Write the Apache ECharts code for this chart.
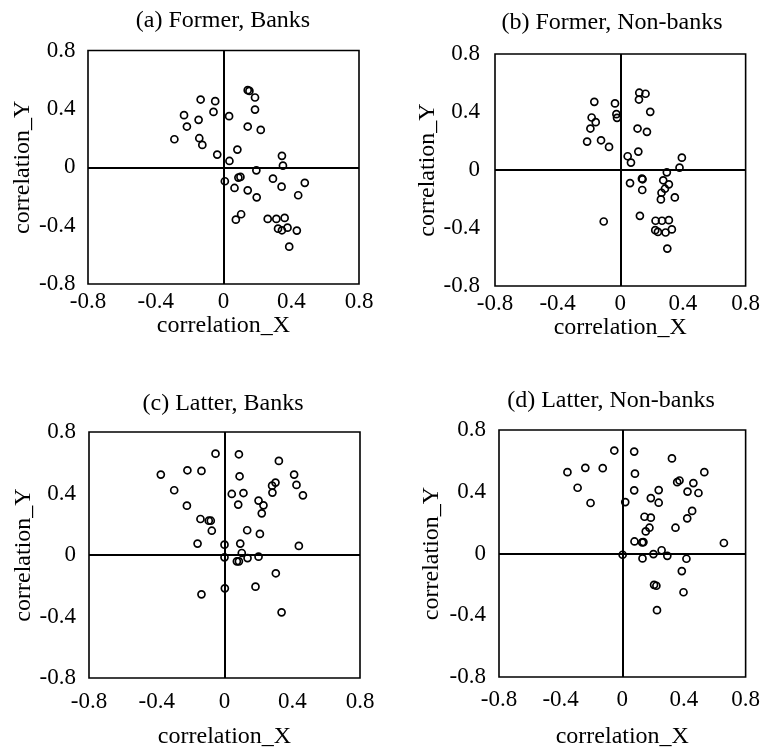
<!DOCTYPE html>
<html>
<head>
<meta charset="utf-8">
<script src="https://cdn.jsdelivr.net/npm/echarts@6/dist/echarts.min.js"></script>
<style>
html,body{margin:0;padding:0;background:#fff;}
#chart{width:763px;height:750px;}
</style>
</head>
<body>
<div id="chart"></div>
<script>
// ---- data ----
const panelTitles = ['(a) Former, Banks', '(b) Former, Non-banks', '(c) Latter, Banks', '(d) Latter, Non-banks'];
const xAxisName = 'correlation_X';
const yAxisName = 'correlation_Y';
const tickValues = [-0.8, -0.4, 0, 0.4, 0.8];
const tickLabels = ['-0.8', '-0.4', '0', '0.4', '0.8'];

const aX = [0.143,0.153,0.186,-0.135,-0.049,0.186,-0.233,-0.059,0.033,-0.147,-0.216,0.143,0.220,-0.290,-0.143,-0.125,0.082,-0.037,0.345,0.035,0.351,0.194,0.008,0.088,0.100,0.292,0.480,0.065,0.343,0.143,0.196,0.441,0.104,0.073,0.261,0.312,0.361,0.322,0.345,0.378,0.433,0.388];
const aY = [0.528,0.523,0.478,0.464,0.453,0.395,0.357,0.379,0.350,0.325,0.279,0.279,0.256,0.192,0.199,0.153,0.121,0.087,0.078,0.043,0.011,-0.021,-0.096,-0.071,-0.066,-0.078,-0.107,-0.142,-0.133,-0.158,-0.206,-0.192,-0.322,-0.359,-0.354,-0.354,-0.347,-0.421,-0.432,-0.414,-0.434,-0.544];

const bX = [0.121,0.161,0.119,-0.166,-0.034,0.191,-0.025,-0.021,-0.183,-0.157,-0.191,0.110,0.170,-0.212,-0.123,-0.072,0.115,0.047,0.068,0.393,0.378,0.297,0.062,0.138,0.142,0.274,0.310,0.285,0.140,0.263,0.348,0.259,0.125,-0.106,0.225,0.266,0.310,0.223,0.240,0.289,0.329,0.300];
const bY = [0.533,0.526,0.486,0.470,0.459,0.401,0.385,0.360,0.362,0.330,0.286,0.286,0.263,0.196,0.205,0.159,0.127,0.095,0.051,0.085,0.016,-0.016,-0.090,-0.060,-0.064,-0.071,-0.099,-0.129,-0.138,-0.157,-0.189,-0.203,-0.316,-0.355,-0.350,-0.350,-0.346,-0.415,-0.427,-0.431,-0.410,-0.542];

const cX = [-0.053,0.085,0.321,-0.376,-0.219,-0.136,0.089,0.411,0.425,0.281,0.301,-0.297,0.043,0.112,0.283,0.463,0.201,0.081,0.230,-0.222,0.220,-0.142,-0.093,-0.081,-0.075,0.134,0.209,-0.159,0.000,0.093,0.439,0.102,0.000,0.136,0.201,0.073,0.085,0.303,0.002,0.183,-0.136,0.337];
const cY = [0.659,0.655,0.612,0.523,0.551,0.547,0.512,0.523,0.456,0.451,0.471,0.421,0.397,0.403,0.406,0.388,0.354,0.328,0.323,0.321,0.271,0.234,0.223,0.223,0.158,0.161,0.137,0.074,0.067,0.074,0.059,0.013,-0.015,-0.020,-0.011,-0.041,-0.041,-0.119,-0.217,-0.206,-0.256,-0.373];

const dX = [-0.052,0.077,0.322,-0.356,-0.240,-0.127,0.082,0.532,-0.290,0.356,0.371,0.461,0.077,0.236,0.423,0.494,0.185,-0.206,0.019,0.236,0.453,0.144,0.185,0.421,0.176,0.152,0.345,0.079,0.129,0.137,0.659,0.002,0.255,0.202,0.292,0.131,0.416,0.386,0.206,0.221,0.397,0.225];
const dY = [0.667,0.660,0.616,0.527,0.555,0.553,0.517,0.527,0.426,0.462,0.473,0.456,0.409,0.411,0.401,0.392,0.359,0.327,0.333,0.329,0.276,0.238,0.232,0.228,0.167,0.143,0.167,0.078,0.072,0.074,0.068,-0.008,0.021,-0.004,-0.015,-0.032,-0.034,-0.114,-0.203,-0.209,-0.251,-0.367];

// ---- layout ----
const FONT = '"Liberation Serif", "Times New Roman", serif';
const layout = [
  {grid:{left:88, top:50.5, width:271, height:233.5}, title:[223,21], xMargin:6, yMargin:12.5, xGap:30, yGap:50},
  {grid:{left:495, top:54, width:251, height:232}, title:[612,23], xMargin:6, yMargin:15, xGap:23, yGap:53},
  {grid:{left:89, top:432, width:271, height:246}, title:[223,404], xMargin:12, yMargin:13, xGap:47, yGap:52},
  {grid:{left:499, top:430, width:249, height:253}, title:[611,401], xMargin:11, yMargin:13, xGap:48, yGap:55}
];
const xs = [aX, bX, cX, dX];
const ys = [aY, bY, cY, dY];

function fmt(v){
  let best = 0, bd = Infinity;
  tickValues.forEach((t,i)=>{ const d = Math.abs(t-v); if(d<bd){bd=d;best=i;} });
  return tickLabels[best];
}

const option = {
  animation:false,
  backgroundColor:'#fff',
  grid: layout.map(l => Object.assign({show:true, borderColor:'#000', borderWidth:1.6, backgroundColor:'transparent', containLabel:false}, l.grid)),
  xAxis: layout.map((l,i) => ({
    type:'value', gridIndex:i, min:-0.8, max:0.8, interval:0.4,
    name:xAxisName, nameLocation:'middle', nameGap:l.xGap,
    nameTextStyle:{fontFamily:FONT, fontSize:24, color:'#000'},
    axisLine:{show:false}, axisTick:{show:false}, splitLine:{show:false},
    axisLabel:{formatter:fmt, fontFamily:FONT, fontSize:23, color:'#000', margin:l.xMargin, showMinLabel:true, showMaxLabel:true}
  })),
  yAxis: layout.map((l,i) => ({
    type:'value', gridIndex:i, min:-0.8, max:0.8, interval:0.4,
    name:yAxisName, nameLocation:'middle', nameGap:l.yGap,
    nameTextStyle:{fontFamily:FONT, fontSize:24, color:'#000'},
    axisLine:{show:false}, axisTick:{show:false}, splitLine:{show:false},
    axisLabel:{formatter:fmt, fontFamily:FONT, fontSize:23, color:'#000', margin:l.yMargin, showMinLabel:true, showMaxLabel:true}
  })),
  graphic: layout.map((l,i) => ({
    type:'text', x:l.title[0], y:l.title[1], silent:true,
    style:{text:panelTitles[i], fill:'#000', font:'24px ' + FONT, align:'center', verticalAlign:'middle'}
  })),
  series: xs.map((xv,i) => ({
    type:'scatter', xAxisIndex:i, yAxisIndex:i,
    symbol:'circle', symbolSize:7,
    itemStyle:{color:'rgba(0,0,0,0)', borderColor:'#000', borderWidth:1.7, opacity:1},
    data: xv.map((x,k) => [x, ys[i][k]]),
    markLine:{
      silent:true, symbol:['none','none'], label:{show:false},
      lineStyle:{color:'#000', width:2, type:'solid'},
      emphasis:{disabled:true},
      data:[{xAxis:0},{yAxis:0}]
    },
    z:3
  }))
};

const chart = echarts.init(document.getElementById('chart'), null, {renderer:'canvas'});
chart.setOption(option);
</script>
</body>
</html>
